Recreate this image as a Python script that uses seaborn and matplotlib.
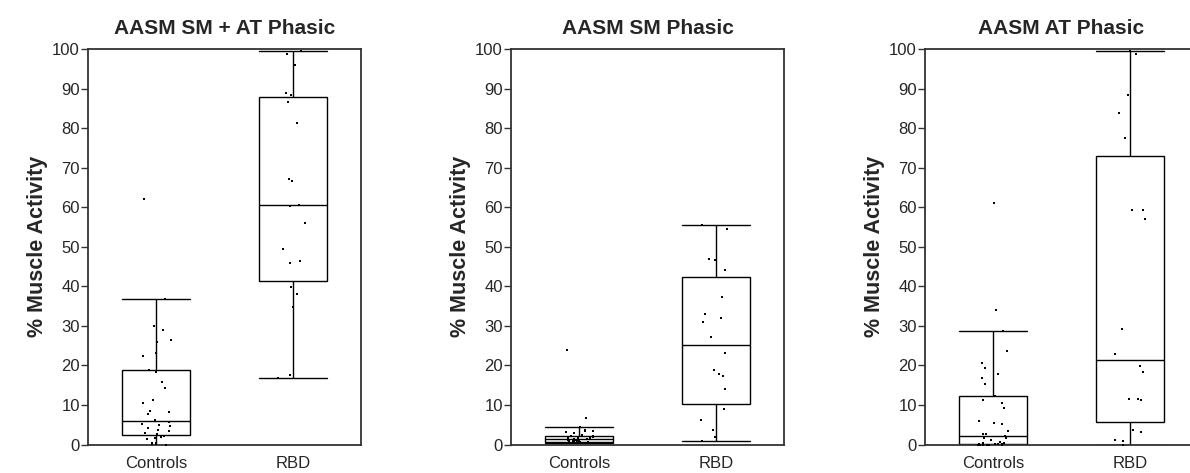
import numpy as np
import pandas as pd
import matplotlib
matplotlib.use("Agg")
import matplotlib.pyplot as plt
import seaborn as sns

# ---- data -------------------------------------------------------------
groups = ["Controls", "RBD"]
panel_titles = ["AASM SM + AT Phasic", "AASM SM Phasic", "AASM AT Phasic"]
y_label = "% Muscle Activity"
y_ticks = list(range(0, 101, 10))

# % phasic muscle activity per subject
sm_at_controls = [62.0, 36.7, 30.0, 28.9, 26.4, 25.9, 23.2, 22.3, 18.9, 18.4,
                  15.7, 14.2, 11.3, 10.6, 8.5, 8.1, 7.6, 6.2, 5.6, 5.3,
                  4.9, 4.6, 4.2, 3.7, 3.5, 3.0, 2.6, 2.2, 1.9, 1.6,
                  1.4, 0.4, 0.3, 0.2, 0.1, 0.0]
sm_at_rbd = [99.6, 98.7, 95.9, 88.9, 88.4, 86.5, 81.4, 67.2, 66.7, 60.6,
             60.3, 56.0, 49.4, 46.4, 45.9, 39.9, 38.1, 34.7, 17.5, 16.7]

sm_controls = [24.0, 6.6, 4.4, 3.6, 3.4, 3.3, 3.1, 2.9, 2.3, 2.2,
               2.1, 2.0, 1.9, 1.8, 1.7, 1.6, 1.5, 1.4, 1.3, 1.2,
               1.2, 1.1, 1.0, 1.0, 0.9, 0.8, 0.8, 0.7, 0.7, 0.6,
               0.6, 0.6, 0.5, 0.5, 0.5, 0.4]
sm_rbd = [55.5, 54.4, 47.0, 46.6, 44.2, 37.2, 32.9, 31.9, 31.0, 27.3,
          23.2, 18.8, 17.8, 17.2, 14.1, 9.0, 6.3, 3.6, 1.9, 0.9]

at_controls = [61.0, 34.1, 28.7, 23.7, 20.7, 19.4, 17.8, 16.8, 15.2, 12.3,
               11.2, 10.6, 9.3, 5.9, 5.4, 5.2, 3.5, 2.7, 2.7, 2.2,
               1.7, 1.7, 1.1, 0.7, 0.5, 0.3, 0.2, 0.2, 0.1, 0.1,
               0.1, 0.0, 0.0, 0.0, 0.0, 0.0, 0.0, 0.0, 0.0]
at_rbd = [99.6, 98.7, 88.4, 83.8, 77.6, 59.3, 59.3, 57.1, 29.2, 22.9,
          19.9, 18.4, 11.6, 11.6, 11.3, 3.7, 3.2, 1.1, 0.8, 0.0]

panels = [(sm_at_controls, sm_at_rbd), (sm_controls, sm_rbd), (at_controls, at_rbd)]


# ---- box statistics: weighted-average (n+1)p quartiles ------------------
_mpl_box_stats = matplotlib.cbook.boxplot_stats


def weighted_average_box_stats(X, whis=1.5, bootstrap=None, labels=None, autorange=False):
    stats = _mpl_box_stats(X, whis=whis, bootstrap=bootstrap, labels=labels,
                           autorange=autorange)
    for st, x in zip(stats, X):
        x = np.asarray(x, dtype=float)
        q1, med, q3 = np.percentile(x, [25, 50, 75], method="weibull")
        iqr = q3 - q1
        lo, hi = q1 - whis * iqr, q3 + whis * iqr
        inside = x[(x >= lo) & (x <= hi)]
        st.update(q1=q1, med=med, q3=q3, iqr=iqr,
                  whislo=inside.min(), whishi=inside.max(),
                  fliers=x[(x < lo) | (x > hi)])
    return stats


matplotlib.cbook.boxplot_stats = weighted_average_box_stats

# ---- style ------------------------------------------------------------
sns.set_style("white")
plt.rcParams["font.family"] = ["Liberation Sans", "DejaVu Sans"]

fig = plt.figure(figsize=(11.9, 4.73), dpi=100)
W, H = 1190.0, 473.0
lefts = [88, 511, 925]
ax_w, ax_top, ax_bot = 273, 49, 444.5

np.random.seed(7)
for left, title, (ctrl, rbd) in zip(lefts, panel_titles, panels):
    ax = fig.add_axes([left / W, (H - ax_bot) / H, ax_w / W, (ax_bot - ax_top) / H])
    df = pd.DataFrame({
        "group": [groups[0]] * len(ctrl) + [groups[1]] * len(rbd),
        "value": list(ctrl) + list(rbd),
    })
    sns.boxplot(data=df, x="group", y="value", order=groups, ax=ax,
                width=0.5, color="white", linecolor="black", linewidth=1.0,
                showfliers=False, whis=1.5, capwidths=0.5)
    sns.stripplot(data=df, x="group", y="value", order=groups, ax=ax,
                  color="black", marker="s", size=2.0, linewidth=0,
                  jitter=0.11, zorder=3)
    ax.set_xlim(-0.5, 1.5)
    ax.set_ylim(0, 100)
    ax.set_yticks(y_ticks)
    ax.set_xlabel("")
    ax.set_ylabel(y_label, fontsize=15.5, fontweight="bold", labelpad=3)
    ax.set_title(title, fontsize=15, fontweight="bold", pad=11)
    ax.tick_params(axis="y", direction="out", length=5, width=1.0,
                   color="#333333", labelsize=12, pad=0.8, left=True)
    ax.tick_params(axis="x", length=0, labelsize=12, pad=8)
    for sp in ax.spines.values():
        sp.set_visible(True)
        sp.set_color("#333333")
        sp.set_linewidth(1.3)

fig.savefig("out.png", dpi=100)
